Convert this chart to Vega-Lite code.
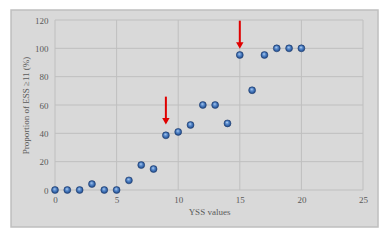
{
  "$schema": "https://vega.github.io/schema/vega-lite/v6.json",
  "width": 308,
  "height": 170,
  "autosize": "none",
  "padding": {"left": 55, "top": 20, "right": 26, "bottom": 50},
  "background": "white",
  "config": {
    "view": {"stroke": null},
    "font": "Liberation Serif",
    "axis": {
      "domain": false, "ticks": false, "grid": false, "labelOverlap": false, "labelFlush": false,
      "labelColor": "#595959", "labelFontSize": 9, "labelFont": "Liberation Serif",
      "titleColor": "#595959", "titleFontSize": 9, "titleFontWeight": "normal", "titleFont": "Liberation Serif"
    },
    "axisY": {"tickCount": 7}
  },
  "datasets": {
    "frame": [{"x1": -3.57, "x2": 26.22, "y1": 127.06, "y2": -26.1}],
    "gx": [{"v": 0}, {"v": 5}, {"v": 10}, {"v": 15}, {"v": 20}, {"v": 25}],
    "gy": [{"v": 0}, {"v": 20}, {"v": 40}, {"v": 60}, {"v": 80}, {"v": 100}, {"v": 120}],
    "pts": [
      {"yss": 0, "p": 0}, {"yss": 1, "p": 0}, {"yss": 2, "p": 0}, {"yss": 3, "p": 4.2},
      {"yss": 4, "p": 0}, {"yss": 5, "p": 0}, {"yss": 6, "p": 6.8}, {"yss": 7, "p": 17.6},
      {"yss": 8, "p": 14.8}, {"yss": 9, "p": 38.6}, {"yss": 10, "p": 41}, {"yss": 11, "p": 45.9},
      {"yss": 12, "p": 60}, {"yss": 13, "p": 60}, {"yss": 14, "p": 47}, {"yss": 15, "p": 95.3},
      {"yss": 16, "p": 70.4}, {"yss": 17, "p": 95.3}, {"yss": 18, "p": 100}, {"yss": 19, "p": 100},
      {"yss": 20, "p": 100}
    ],
    "arrows": [
      {"x": 9, "top": 65.9, "shaftEnd": 49.5, "head": 48.5},
      {"x": 15, "top": 119.5, "shaftEnd": 103, "head": 102}
    ]
  },
  "layer": [
    {
      "data": {"name": "frame"},
      "mark": {"type": "rect", "fill": "#d9d9d9", "stroke": "#bfbfbf", "strokeWidth": 1.5},
      "encoding": {
        "x": {"field": "x1", "type": "quantitative", "title": "YSS values",
              "scale": {"domain": [0, 25], "nice": false},
              "axis": {"values": [0, 5, 10, 15, 20, 25], "labelPadding": 5, "titlePadding": 3, "zindex": 3,
                       "labelColor": "#595959", "labelOverlap": false, "labelFlush": false}},
        "x2": {"field": "x2"},
        "y": {"field": "y1", "type": "quantitative", "title": "Proportion of ESS ≥11 (%)",
              "scale": {"domain": [0, 120], "nice": false},
              "axis": {"values": [0, 20, 40, 60, 80, 100, 120], "tickCount": 7, "labelPadding": 7, "titlePadding": 4, "zindex": 3,
                       "labelColor": "#595959", "labelOverlap": false, "labelFlush": false, "labelBound": false}},
        "y2": {"field": "y2"}
      }
    },
    {
      "data": {"name": "gx"},
      "mark": {"type": "rule", "stroke": "#bfbfbf", "strokeWidth": 1},
      "encoding": {
        "x": {"field": "v", "type": "quantitative", "title": "YSS values",
              "axis": {"values": [0, 5, 10, 15, 20, 25], "labelPadding": 5, "titlePadding": 3, "zindex": 3,
                       "labelColor": "#595959", "labelOverlap": false, "labelFlush": false}}
      }
    },
    {
      "data": {"name": "gy"},
      "mark": {"type": "rule", "stroke": "#bfbfbf", "strokeWidth": 1},
      "encoding": {
        "y": {"field": "v", "type": "quantitative", "title": "Proportion of ESS ≥11 (%)",
              "axis": {"values": [0, 20, 40, 60, 80, 100, 120], "tickCount": 7, "labelPadding": 7, "titlePadding": 4, "zindex": 3,
                       "labelColor": "#595959", "labelOverlap": false, "labelFlush": false, "labelBound": false}}
      }
    },
    {
      "data": {"name": "pts"},
      "mark": {
        "type": "circle", "size": 48, "opacity": 1,
        "fill": {
          "gradient": "radial", "x1": 0.42, "y1": 0.32, "r1": 0, "x2": 0.5, "y2": 0.5, "r2": 0.55,
          "stops": [
            {"offset": 0, "color": "#d6e6fa"},
            {"offset": 0.3, "color": "#6b9ad6"},
            {"offset": 0.75, "color": "#2d5fa6"},
            {"offset": 1, "color": "#1c3a6b"}
          ]
        },
        "stroke": "#1f3c6e", "strokeWidth": 0.6
      },
      "encoding": {
        "x": {"field": "yss", "type": "quantitative", "title": "YSS values",
              "axis": {"values": [0, 5, 10, 15, 20, 25], "labelPadding": 5, "titlePadding": 3, "zindex": 3,
                       "labelColor": "#595959", "labelOverlap": false, "labelFlush": false}},
        "y": {"field": "p", "type": "quantitative", "title": "Proportion of ESS ≥11 (%)",
              "axis": {"values": [0, 20, 40, 60, 80, 100, 120], "tickCount": 7, "labelPadding": 7, "titlePadding": 4, "zindex": 3,
                       "labelColor": "#595959", "labelOverlap": false, "labelFlush": false, "labelBound": false}}
      }
    },
    {
      "data": {"name": "arrows"},
      "mark": {"type": "rule", "stroke": "#e00000", "strokeWidth": 2},
      "encoding": {
        "x": {"field": "x", "type": "quantitative", "title": "YSS values"},
        "y": {"field": "top", "type": "quantitative", "title": "Proportion of ESS ≥11 (%)"},
        "y2": {"field": "shaftEnd"}
      }
    },
    {
      "data": {"name": "arrows"},
      "mark": {"type": "point", "shape": "triangle-down", "size": 55, "filled": true, "fill": "#e00000", "opacity": 1, "strokeWidth": 0},
      "encoding": {
        "x": {"field": "x", "type": "quantitative", "title": "YSS values"},
        "y": {"field": "head", "type": "quantitative", "title": "Proportion of ESS ≥11 (%)"}
      }
    }
  ]
}
